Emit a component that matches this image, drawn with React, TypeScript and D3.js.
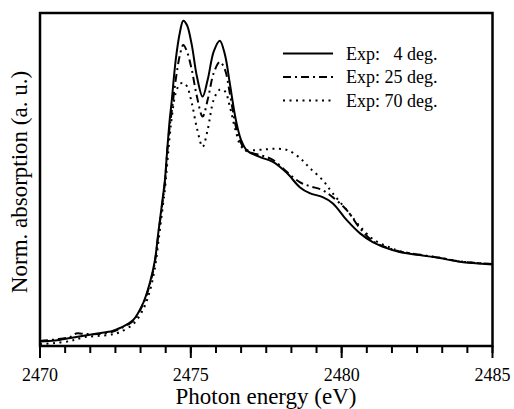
import React from "react";
import * as d3 from "d3";

const energy = [2470, 2470.5, 2471, 2471.2, 2471.5, 2471.9, 2472.4, 2472.65, 2473.09, 2473.42, 2473.64, 2473.81, 2473.92, 2474.03, 2474.14, 2474.21, 2474.3, 2474.36, 2474.5, 2474.64, 2474.75, 2474.87, 2475.03, 2475.2, 2475.39, 2475.56, 2475.76, 2475.96, 2476.13, 2476.29, 2476.49, 2476.66, 2476.85, 2477.28, 2477.72, 2478.18, 2478.61, 2478.94, 2479.37, 2479.7, 2480.17, 2480.6, 2481.03, 2481.49, 2481.92, 2482.58, 2483.25, 2483.91, 2485];

const exp4 = [0.0135, 0.0165, 0.024, 0.027, 0.0315, 0.0375, 0.045, 0.054, 0.078, 0.129, 0.189, 0.258, 0.339, 0.417, 0.498, 0.58, 0.68, 0.73, 0.86, 0.943, 0.977, 0.964, 0.905, 0.81, 0.749, 0.8, 0.885, 0.917, 0.875, 0.79, 0.68, 0.62, 0.588, 0.568, 0.553, 0.52, 0.477, 0.459, 0.447, 0.429, 0.378, 0.339, 0.312, 0.294, 0.282, 0.273, 0.264, 0.253, 0.245];

const exp25 = [0.015, 0.0195, 0.027, 0.0375, 0.036, 0.036, 0.0425, 0.052, 0.076, 0.126, 0.185, 0.253, 0.333, 0.41, 0.49, 0.575, 0.66, 0.7, 0.8, 0.875, 0.904, 0.885, 0.83, 0.75, 0.689, 0.74, 0.82, 0.853, 0.83, 0.76, 0.66, 0.61, 0.585, 0.574, 0.559, 0.523, 0.492, 0.48, 0.468, 0.447, 0.408, 0.354, 0.315, 0.296, 0.284, 0.274, 0.265, 0.254, 0.246];

const exp70 = [0.006, 0.009, 0.015, 0.02, 0.027, 0.03, 0.035, 0.042, 0.066, 0.11, 0.165, 0.235, 0.31, 0.39, 0.47, 0.54, 0.63, 0.68, 0.76, 0.787, 0.79, 0.78, 0.73, 0.655, 0.598, 0.65, 0.74, 0.77, 0.765, 0.72, 0.645, 0.6, 0.589, 0.589, 0.592, 0.589, 0.565, 0.535, 0.498, 0.459, 0.408, 0.36, 0.321, 0.3, 0.285, 0.274, 0.265, 0.254, 0.246];

const seriesLabels = ["Exp:   4 deg.", "Exp: 25 deg.", "Exp: 70 deg."];
const majorTicks = [2470, 2475, 2480, 2485];
const xLabel = "Photon energy (eV)";
const yLabel = "Norm. absorption (a. u.)";

export default function App() {
  const W = 514, H = 409;
  const left = 40, right = 492.5, top = 13, bottom = 346;
  const x = d3.scaleLinear().domain([2470, 2485]).range([left, right]);
  const y = d3.scaleLinear().domain([0, 1]).range([bottom, top]);
  const line = d3
    .line<[number, number]>()
    .x((d) => x(d[0]))
    .y((d) => y(d[1]))
    .curve(d3.curveCatmullRom.alpha(0.5));

  const series = [
    { vals: exp4, dash: undefined as string | undefined, width: 2 },
    { vals: exp25, dash: "8 4 2 4", width: 2 },
    { vals: exp70, dash: "2 4.5", width: 2 },
  ];

  const minor: number[] = [];
  for (let k = 0; k <= 18; k++) minor.push(2470 + (k * 5) / 6);

  const font = { fontFamily: "'Liberation Serif', 'Times New Roman', serif" };

  return (
    <svg width={W} height={H} style={{ position: "absolute", left: 0, top: 0, background: "#fff" }}>
      <defs>
        <clipPath id="plot">
          <rect x={left} y={top} width={right - left} height={bottom - top} />
        </clipPath>
      </defs>
      <rect x={0} y={0} width={W} height={H} fill="#fff" />
      <g clipPath="url(#plot)">
        {series.map((s, i) => (
          <path
            key={i}
            d={line(energy.map((e, j) => [e, s.vals[j]] as [number, number])) || ""}
            fill="none"
            stroke="#000"
            strokeWidth={s.width}
            strokeDasharray={s.dash}
          />
        ))}
      </g>
      <rect x={left} y={top} width={right - left} height={bottom - top} fill="none" stroke="#000" strokeWidth={2.5} />
      {minor.map((t, i) => (
        <line key={"m" + i} x1={x(t)} x2={x(t)} y1={bottom} y2={bottom + 7} stroke="#000" strokeWidth={2} />
      ))}
      {majorTicks.map((t) => (
        <g key={t}>
          <line x1={x(t)} x2={x(t)} y1={bottom} y2={bottom + 12} stroke="#000" strokeWidth={2} />
          <text x={x(t)} y={381} textAnchor="middle" fontSize={18} style={font}>
            {t}
          </text>
        </g>
      ))}
      <text x={266} y={404} textAnchor="middle" fontSize={23} style={font}>
        {xLabel}
      </text>
      <text transform={`translate(27,${182}) rotate(-90)`} textAnchor="middle" fontSize={23} style={font}>
        {yLabel}
      </text>
      {seriesLabels.map((lab, i) => (
        <g key={lab}>
          <line
            x1={283}
            x2={333}
            y1={53.5 + i * 23.5}
            y2={53.5 + i * 23.5}
            stroke="#000"
            strokeWidth={2}
            strokeDasharray={series[i].dash}
          />
          <text x={346} y={59.5 + i * 23.5} fontSize={18} style={{ ...font, whiteSpace: "pre" }}>
            {lab}
          </text>
        </g>
      ))}
    </svg>
  );
}
